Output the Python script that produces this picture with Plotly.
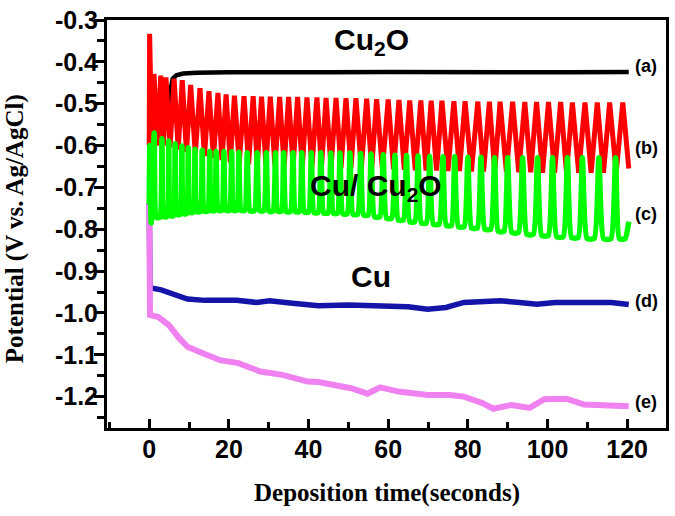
import plotly.graph_objects as go

# ---------------- data ----------------
# (a) black
black_t = [0.0, 2.5, 5.1, 5.3, 5.5, 5.9, 6.8, 8.5, 12.0, 20.0, 30.0, 45.0, 60.0, 75.0, 90.0, 105.0, 120.4]
black_v = [-0.548, -0.550, -0.552, -0.500, -0.460, -0.440, -0.432, -0.428, -0.426, -0.425,
           -0.424, -0.425, -0.424, -0.425, -0.424, -0.425, -0.424]

# (b) red : oscillation peaks / troughs
red_start_t = [0.0]
red_start_v = [-0.600]
red_peak_t = [0.1, 1.2, 2.9, 4.2, 6.25, 8.3, 10.4, 12.75, 15.0, 17.25, 19.3, 21.4, 23.8,
              26.1, 28.2, 30.4, 32.75, 35.0, 37.25, 39.6, 42.1, 44.4, 46.9, 49.4, 51.9, 54.6,
              57.1, 60.0, 62.7, 65.4, 68.2, 70.8, 73.5, 76.5, 79.3, 82.5, 85.4,
              88.1, 91.25, 94.3, 97.25, 100.25, 103.3, 106.25, 109.4, 112.5, 115.6, 118.9]
red_peak_v = [-0.333, -0.429, -0.433,
              -0.437, -0.440, -0.444, -0.455, -0.463, -0.470, -0.474, -0.478, -0.481, -0.482,
              -0.482, -0.483, -0.483, -0.484, -0.484, -0.484, -0.485, -0.485, -0.486, -0.486, -0.487, -0.487, -0.488,
              -0.489, -0.490, -0.491, -0.492, -0.492, -0.493, -0.493, -0.494, -0.494, -0.495, -0.495,
              -0.495, -0.495, -0.496, -0.496, -0.496, -0.496, -0.497, -0.497, -0.497, -0.497, -0.497]
red_trough_v = [-0.600, -0.600, -0.600,
                -0.605, -0.610, -0.615, -0.620, -0.625, -0.630, -0.635, -0.640, -0.643, -0.645,
                -0.647, -0.648, -0.649, -0.650, -0.650, -0.651, -0.651, -0.652, -0.652, -0.653, -0.653, -0.654, -0.655,
                -0.656, -0.657, -0.658, -0.659, -0.660, -0.660, -0.661, -0.661, -0.662, -0.662, -0.663,
                -0.663, -0.664, -0.664, -0.665, -0.665, -0.665, -0.665, -0.665, -0.665, -0.665, -0.655]
red_end_t = 120.4

# (c) green : oscillation peaks / troughs
green_start_t = [0.0, 0.15, 0.5]
green_start_v = [-0.740, -0.600, -0.785]
green_peak_t = [1.25, 3.2, 4.9, 6.5, 8.2, 9.8, 11.5, 13.3, 15.2, 16.8,
                18.75, 20.7, 22.5, 24.6, 27.1, 29.4, 31.7, 33.75, 36.1, 38.3,
                40.7, 43.1, 45.6, 47.9, 50.4, 53.1, 55.7, 58.75, 61.7, 64.6,
                67.5, 70.4, 73.75, 76.7, 80.0, 83.3, 86.7, 90.0, 93.75, 97.5,
                101.25, 105.0, 108.75, 112.9, 117.1]
green_peak_v = [-0.570, -0.584, -0.589, -0.596, -0.601, -0.605, -0.609, -0.611, -0.614, -0.614,
                -0.614, -0.615, -0.616, -0.617, -0.617, -0.617, -0.617, -0.617, -0.617, -0.617,
                -0.617, -0.617, -0.618, -0.618, -0.618, -0.619, -0.620, -0.622, -0.623, -0.624,
                -0.625, -0.626, -0.627, -0.627, -0.628, -0.628, -0.629, -0.629, -0.629, -0.629,
                -0.629, -0.629, -0.629, -0.629, -0.629]
green_trough_v = [-0.772, -0.770, -0.768, -0.765, -0.763, -0.760, -0.758, -0.757, -0.756, -0.755,
                  -0.755, -0.755, -0.755, -0.756, -0.756, -0.757, -0.757, -0.758, -0.758, -0.759,
                  -0.760, -0.761, -0.762, -0.763, -0.764, -0.766, -0.770, -0.774, -0.778, -0.782,
                  -0.785, -0.788, -0.791, -0.794, -0.797, -0.800, -0.805, -0.808, -0.812, -0.815,
                  -0.818, -0.820, -0.822, -0.823, -0.823]
green_end_t = 120.4
green_end_v = -0.782

# (d) blue
blue_t = [0.0, 0.2, 3.0, 9.6, 14.0, 17.8, 21.9, 27.0, 30.2, 36.0, 42.5, 50.0, 55.0, 60.8, 65.0,
          69.9, 74.5, 79.0, 84.0, 88.2, 93.0, 97.3, 101.9, 107.0, 112.9, 116.0, 120.4]
blue_v = [-0.737, -0.940, -0.945, -0.967, -0.970, -0.971, -0.970, -0.975, -0.971, -0.977, -0.983,
          -0.981, -0.983, -0.983, -0.985, -0.991, -0.987, -0.975, -0.973, -0.971, -0.975, -0.979,
          -0.975, -0.975, -0.973, -0.975, -0.980]

# (e) pink
pink_t = [0.0, 0.2, 2.3, 5.0, 7.3, 9.6, 13.3, 17.8, 22.4, 27.9, 33.4, 39.8, 42.5, 47.1, 50.7,
          54.8, 58.0, 62.6, 69.9, 75.4, 79.0, 83.6, 86.4, 90.9, 95.5, 99.2, 104.7, 109.2, 114.0, 120.4]
pink_v = [-0.740, -1.005, -1.010, -1.030, -1.058, -1.081, -1.096, -1.113, -1.120, -1.140, -1.148,
          -1.164, -1.165, -1.172, -1.180, -1.193, -1.178, -1.188, -1.196, -1.196, -1.200, -1.215,
          -1.229, -1.220, -1.227, -1.206, -1.205, -1.219, -1.222, -1.223]

# ticks
x_tick_vals = [0, 20, 40, 60, 80, 100, 120]
y_tick_vals = [-0.3, -0.4, -0.5, -0.6, -0.7, -0.8, -0.9, -1.0, -1.1, -1.2]
y_tick_text = ["-0.3", "-0.4", "-0.5", "-0.6", "-0.7", "-0.8", "-0.9", "-1.0", "-1.1", "-1.2"]

# ---------------- build oscillating traces from peaks / troughs ----------------
red_x, red_y = list(red_start_t), list(red_start_v)
for i, tp in enumerate(red_peak_t):
    red_x.append(tp); red_y.append(red_peak_v[i])
    if i + 1 < len(red_peak_t):
        red_x.append((tp + red_peak_t[i + 1]) / 2)
    else:
        red_x.append(red_end_t)
    red_y.append(red_trough_v[i])

green_x, green_y = list(green_start_t), list(green_start_v)
for i, tp in enumerate(green_peak_t):
    nxt = green_peak_t[i + 1] if i + 1 < len(green_peak_t) else green_end_t
    d = nxt - tp
    green_x += [tp, tp + 0.28 * d, tp + 0.72 * d]
    green_y += [green_peak_v[i], green_trough_v[i], green_trough_v[i]]
green_x.append(green_end_t); green_y.append(green_end_v)

fig = go.Figure()
fig.add_trace(go.Scatter(x=blue_t, y=blue_v, mode="lines",
                         line=dict(color="#1414a8", width=5.5)))
fig.add_trace(go.Scatter(x=pink_t, y=pink_v, mode="lines",
                         line=dict(color="#f081f0", width=6)))
fig.add_trace(go.Scatter(x=black_t, y=black_v, mode="lines",
                         line=dict(color="black", width=4.5)))
fig.add_trace(go.Scatter(x=red_x, y=red_y, mode="lines",
                         line=dict(color="#ff0000", width=5)))
fig.add_trace(go.Scatter(x=green_x, y=green_y, mode="lines",
                         line=dict(color="#00ff00", width=5.5, shape="spline", smoothing=0.5)))

tick_font = dict(family="Liberation Sans", size=25, color="black", weight="bold")
lbl_font = dict(family="Liberation Sans", size=30, color="black", weight="bold")
small_font = dict(family="Liberation Sans", size=18, color="black", weight="bold")
title_font = dict(family="Liberation Serif", size=25, color="black", weight="bold")

annotations = [
    dict(x=55.9, y=-0.352, xref="x", yref="y", text="Cu<sub>2</sub>O", showarrow=False, font=lbl_font),
    dict(x=56.9, y=-0.701, xref="x", yref="y", text="Cu/ Cu<sub>2</sub>O", showarrow=False, font=lbl_font),
    dict(x=55.75, y=-0.914, xref="x", yref="y", text="Cu", showarrow=False, font=lbl_font),
    dict(x=124.8, y=-0.411, xref="x", yref="y", text="(a)", showarrow=False, font=small_font),
    dict(x=124.8, y=-0.605, xref="x", yref="y", text="(b)", showarrow=False, font=small_font),
    dict(x=124.8, y=-0.764, xref="x", yref="y", text="(c)", showarrow=False, font=small_font),
    dict(x=124.8, y=-0.971, xref="x", yref="y", text="(d)", showarrow=False, font=small_font),
    dict(x=124.8, y=-1.214, xref="x", yref="y", text="(e)", showarrow=False, font=small_font),
    dict(x=-0.164, y=0.488, xref="paper", yref="paper", text="Potential (V vs. Ag/AgCl)",
         textangle=-90, showarrow=False, font=title_font, xanchor="center", yanchor="middle"),
    dict(x=0.5, y=-0.16, xref="paper", yref="paper", text="Deposition time(seconds)",
         showarrow=False, font=title_font, xanchor="center", yanchor="middle"),
]

fig.update_layout(
    width=675, height=516,
    margin=dict(l=107, r=6, t=16, b=88),
    paper_bgcolor="white", plot_bgcolor="white",
    showlegend=False,
    annotations=annotations,
    xaxis=dict(range=[-10.6, 129.75], tickmode="array", tickvals=x_tick_vals,
               ticks="inside", ticklen=9, tickwidth=3, tickcolor="black",
               minor=dict(tickmode="linear", tick0=0, dtick=10, ticks="inside",
                          ticklen=6, tickwidth=3, tickcolor="black"),
               showline=True, linewidth=3, linecolor="black", mirror=True,
               showgrid=False, zeroline=False, tickfont=tick_font, ticklabelstandoff=-3,
               ticklabeloverflow="allow"),
    yaxis=dict(range=[-1.275, -0.3], tickmode="array", tickvals=y_tick_vals, ticktext=y_tick_text,
               ticks="outside", ticklen=10, tickwidth=3, tickcolor="black",
               minor=dict(tickmode="linear", tick0=-0.3, dtick=0.05, ticks="outside",
                          ticklen=7, tickwidth=3, tickcolor="black"),
               showline=True, linewidth=3, linecolor="black", mirror=True,
               showgrid=False, zeroline=False, tickfont=tick_font, ticklabelstandoff=-9,
               ticklabeloverflow="allow"),
)

# remove the page's default 8px body margin so the figure sits at the window's corner
fig.write_html("out.html", config={"displayModeBar": False},
               post_script="document.body.style.margin='0px';")
